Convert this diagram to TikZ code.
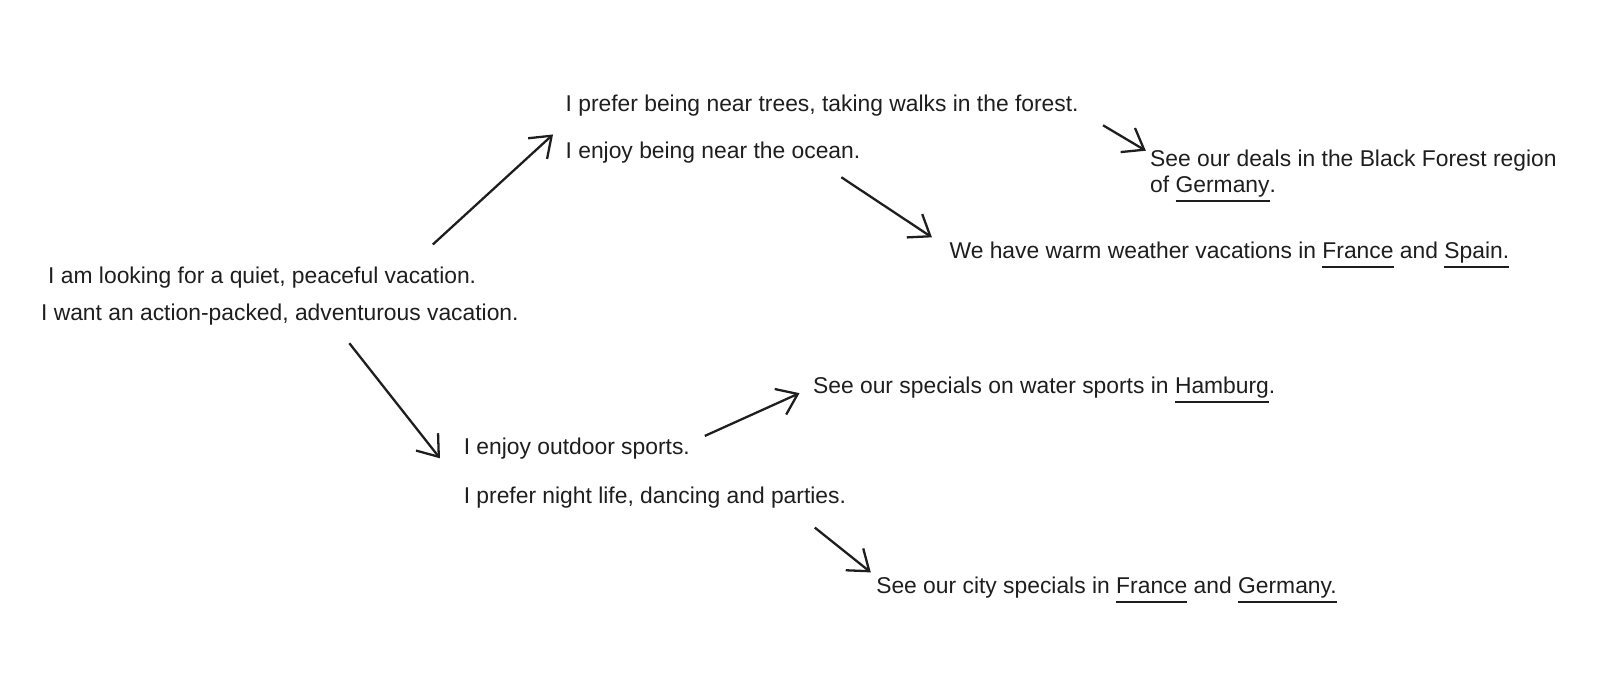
\documentclass[tikz,border=0pt]{standalone}
\usepackage{fontspec}
\setmainfont{Liberation Sans}
\usetikzlibrary{arrows.meta}
\definecolor{ink}{HTML}{1E1E1E}
\newcommand{\uword}[1]{\setbox0\hbox{#1}\rlap{\raisebox{-5.5pt}{\rule{\wd0}{1.2pt}}}\box0\relax}
\begin{document}
\begin{tikzpicture}[x=0.02037cm, y=-0.02037cm, color=ink,
    txt/.style={anchor=west, inner sep=0pt, font=\fontsize{13}{14.6}\selectfont},
    arr/.style={-{Straight Barb[length=3.8mm, width=5.6mm]}, line width=1.3pt}]
  \useasboundingbox (0,0) rectangle (1568,672.6);
  % first choice
  \node[txt] (quiet) at (47,273) {I am looking for a quiet, peaceful vacation.};
  \node[txt] (action) at (40,309) {I want an action-packed, adventurous vacation.};
  % quiet branch
  \node[txt] (trees) at (555,104) {I prefer being near trees, taking walks in the forest.};
  \node[txt] (ocean) at (555,150) {I enjoy being near the ocean.};
  \node[txt, align=left] (forest) at (1129,173) {See our deals in the Black Forest region\\of \uword{Germany}.};
  \node[txt] (warm) at (932,250) {We have warm weather vacations in \uword{France} and \uword{Spain.}};
  % action branch
  \node[txt] (sports) at (455,440) {I enjoy outdoor sports.};
  \node[txt] (night) at (455,489) {I prefer night life, dancing and parties.};
  \node[txt] (water) at (798,383) {See our specials on water sports in \uword{Hamburg}.};
  \node[txt] (city) at (860,579) {See our city specials in \uword{France} and \uword{Germany.}};
  % arrow ends
  \coordinate (a1) at (425,240);  \coordinate (b1) at (543,132);
  \coordinate (a2) at (1083,123); \coordinate (b2) at (1125,148);
  \coordinate (a3) at (826,174);  \coordinate (b3) at (915,233);
  \coordinate (a4) at (343,337);  \coordinate (b4) at (432,450);
  \coordinate (a5) at (692,428);  \coordinate (b5) at (785,386);
  \coordinate (a6) at (800,518);  \coordinate (b6) at (855,562);
  \draw[arr] (a1) -- (b1);
  \draw[arr] (a2) -- (b2);
  \draw[arr] (a3) -- (b3);
  \draw[arr] (a4) -- (b4);
  \draw[arr] (a5) -- (b5);
  \draw[arr] (a6) -- (b6);
\end{tikzpicture}
\end{document}
